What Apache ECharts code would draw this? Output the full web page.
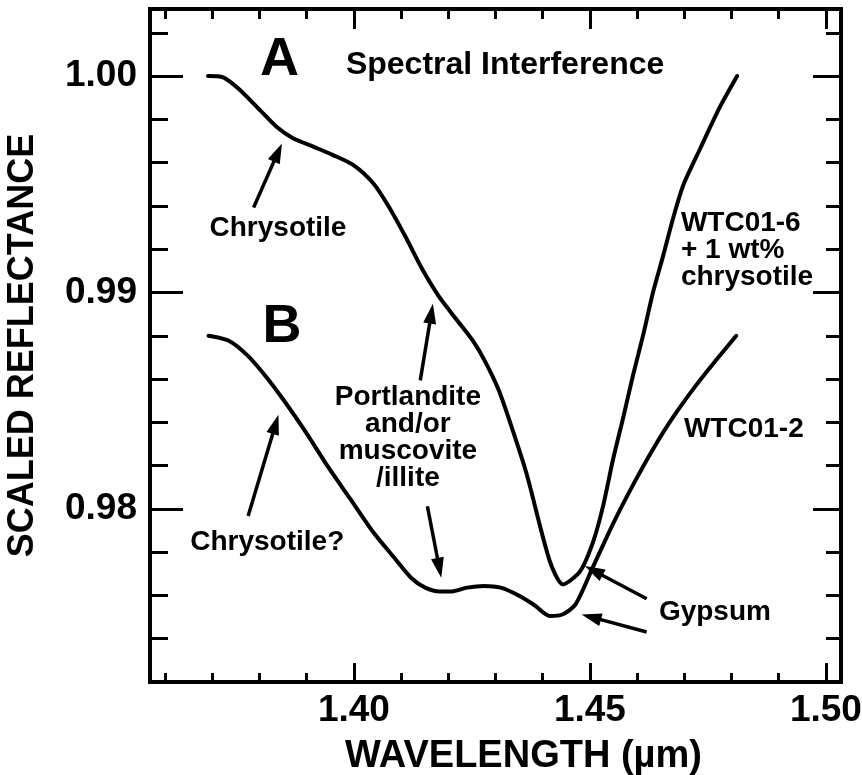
<!DOCTYPE html>
<html>
<head>
<meta charset="utf-8">
<script src="https://cdn.jsdelivr.net/npm/echarts@6/dist/echarts.min.js"></script>
<style>
  html, body { margin: 0; padding: 0; background: #fff; }
  #chart { width: 862px; height: 775px; }
</style>
</head>
<body>
<div id="chart"></div>
<script>
// Spectrum A: WTC01-6 + 1 wt% chrysotile
const waveA = [1.3691, 1.3723, 1.3759, 1.3801, 1.3836, 1.3871, 1.3914, 1.3956, 1.3999, 1.4041,
               1.4075, 1.4110, 1.4145, 1.4180, 1.4216, 1.4252, 1.4277, 1.4307, 1.4336, 1.4366,
               1.4415, 1.4443, 1.4479, 1.4507, 1.4528, 1.4549, 1.4571, 1.4592,
               1.4613, 1.4634, 1.4655, 1.4677, 1.4698, 1.4733, 1.4775, 1.4812];
const reflA = [1.0000, 0.99994, 0.99935, 0.99843, 0.99766, 0.99713, 0.99674, 0.99635, 0.99589, 0.99505,
               0.99393, 0.99255, 0.99107, 0.98982, 0.98879, 0.98777, 0.98685, 0.98548, 0.98366, 0.98161,
               0.97759, 0.97651, 0.97711, 0.97849, 0.98014, 0.98228, 0.98426, 0.98623,
               0.98805, 0.99003, 0.99168, 0.99349, 0.99497, 0.99662, 0.99855, 1.0000];

// Spectrum B: WTC01-2
const waveB = [1.3692, 1.3735, 1.3775, 1.3816, 1.3851, 1.3898, 1.3945, 1.3992, 1.4039, 1.4086,
               1.4121, 1.4151, 1.4182, 1.4205, 1.4240, 1.4276, 1.4311, 1.4347, 1.4382, 1.4415,
               1.4443, 1.4470, 1.4507, 1.4549, 1.4592, 1.4634, 1.4677, 1.4726, 1.4768, 1.4810];
const reflB = [0.98800, 0.98777, 0.98708, 0.98605, 0.98503, 0.98355, 0.98195, 0.98047, 0.97898, 0.97773,
               0.97682, 0.97636, 0.97618, 0.97618, 0.97636, 0.97644, 0.97636, 0.97602, 0.97556, 0.97505,
               0.97513, 0.97560, 0.97734, 0.97931, 0.98113, 0.98277, 0.98426, 0.98574, 0.98689, 0.98800];

// Axis ranges and ticks
const xRange = [1.3568, 1.5032];
const yRange = [0.972, 1.0031];
const xMinorTicks = [1.36, 1.37, 1.38, 1.39, 1.41, 1.42, 1.43, 1.44, 1.46, 1.47, 1.48, 1.49];
const xMajorTicks = [1.40, 1.45, 1.50];
const yMinorTicks = [0.974, 0.976, 0.978, 0.982, 0.984, 0.986, 0.988, 0.992, 0.994, 0.996, 0.998, 1.002];
const yMajorTicks = [0.98, 0.99, 1.00];

// Annotation anchors (wavelength, reflectance)
const notes = [
  { text: 'A', at: [1.38422, 1.00074] },
  { text: 'Spectral Interference', at: [1.39831, 1.00051] },
  { text: 'Chrysotile', at: [1.36941, 0.99296] },
  { text: 'B', at: [1.38475, 0.98842] },
  { text: 'Portlandite\nand/or\nmuscovite\n/illite', at: [1.41144, 0.98327] },
  { text: 'Chrysotile?', at: [1.36532, 0.97845] },
  { text: 'Gypsum', at: [1.46462, 0.97522] },
  { text: 'WTC01-6\n+ 1 wt%\nchrysotile', at: [1.46928, 0.99197] },
  { text: 'WTC01-2', at: [1.46992, 0.98366] }
];
// Arrows: [tail wavelength, tail reflectance, tip wavelength, tip reflectance]
const arrows = [
  [1.37875, 0.99393, 1.38475, 0.99689],
  [1.37759, 0.97967, 1.38401, 0.98435],
  [1.41406, 0.98594, 1.41674, 0.98948],
  [1.41557, 0.98012, 1.41850, 0.97682],
  [1.46202, 0.97585, 1.44894, 0.97736],
  [1.46202, 0.97431, 1.44824, 0.97512]
];

const FONT = "'Liberation Sans', Arial, Helvetica, sans-serif";
const noteLook = [
  { size: 54, align: 'center', lh: 54 },
  { size: 32, align: 'left', lh: 32 },
  { size: 28, align: 'left', lh: 28 },
  { size: 54, align: 'center', lh: 54 },
  { size: 28, align: 'center', lh: 27 },
  { size: 28, align: 'left', lh: 28 },
  { size: 28, align: 'left', lh: 28 },
  { size: 28, align: 'left', lh: 27 },
  { size: 28, align: 'left', lh: 28 }
];

const zip = (xs, ys) => xs.map((x, i) => [x, ys[i]]);

function xAxisDef(position, ticks, len, withLine, withLabel) {
  return {
    type: 'value', position: position, min: xRange[0], max: xRange[1],
    axisLine: { show: withLine, onZero: false, lineStyle: { color: '#000', width: 4, cap: 'square' } },
    axisTick: { show: true, inside: true, length: len, customValues: ticks,
                lineStyle: { color: '#000', width: 3 } },
    axisLabel: withLabel ? {
      show: true, customValues: xMajorTicks, margin: 10,
      formatter: v => v.toFixed(2),
      color: '#000', fontSize: 37, fontWeight: 'bold', fontFamily: FONT
    } : { show: false },
    splitLine: { show: false },
    name: withLabel ? 'WAVELENGTH (\u00b5m)' : '',
    nameLocation: 'middle', nameGap: 56,
    nameTextStyle: { color: '#000', fontSize: 38, fontWeight: 'bold', fontFamily: FONT,
                     padding: [0, 0, 0, 56] }
  };
}
function yAxisDef(position, ticks, len, withLine, withLabel) {
  return {
    type: 'value', position: position, min: yRange[0], max: yRange[1],
    axisLine: { show: withLine, onZero: false, lineStyle: { color: '#000', width: 4, cap: 'square' } },
    axisTick: { show: true, inside: true, length: len, customValues: ticks,
                lineStyle: { color: '#000', width: 3 } },
    axisLabel: withLabel ? {
      show: true, customValues: yMajorTicks, margin: 13,
      formatter: v => v.toFixed(2),
      color: '#000', fontSize: 37, fontWeight: 'bold', fontFamily: FONT
    } : { show: false },
    splitLine: { show: false },
    name: withLabel ? 'SCALED REFLECTANCE' : '',
    nameLocation: 'middle', nameGap: 109,
    nameTextStyle: { color: '#000', fontSize: 36, fontWeight: 'bold', fontFamily: FONT }
  };
}

const chart = echarts.init(document.getElementById('chart'), null, { renderer: 'canvas' });

chart.setOption({
  animation: false,
  backgroundColor: '#fff',
  grid: { left: 150, right: 21, top: 9, bottom: 93, containLabel: false, outerBoundsMode: 'none' },
  xAxis: [
    xAxisDef('bottom', xMinorTicks, 9, true, true),
    xAxisDef('bottom', xMajorTicks, 19, false, false),
    xAxisDef('top', xMinorTicks, 10, true, false),
    xAxisDef('top', xMajorTicks, 20, false, false)
  ],
  yAxis: [
    yAxisDef('left', yMinorTicks, 18, true, true),
    yAxisDef('left', yMajorTicks, 33, false, false),
    yAxisDef('right', yMinorTicks, 15, true, false),
    yAxisDef('right', yMajorTicks, 28, false, false)
  ],
  series: [
    {
      name: 'WTC01-6 + 1 wt% chrysotile', type: 'line', data: zip(waveA, reflA),
      showSymbol: false, smooth: 0.25, silent: true,
      lineStyle: { color: '#000', width: 4, join: 'round', cap: 'round' }
    },
    {
      name: 'WTC01-2', type: 'line', data: zip(waveB, reflB),
      showSymbol: false, smooth: 0.25, silent: true,
      lineStyle: { color: '#000', width: 4, join: 'round', cap: 'round' }
    },
    {
      name: 'arrows', type: 'custom', data: arrows, silent: true,
      renderItem: function (params, api) {
        const p1 = api.coord([api.value(0), api.value(1)]);
        const p2 = api.coord([api.value(2), api.value(3)]);
        const dx = p2[0] - p1[0], dy = p2[1] - p1[1];
        const len = Math.sqrt(dx * dx + dy * dy);
        const ux = dx / len, uy = dy / len;
        const head = 20, half = 6.5;
        const bx = p2[0] - ux * head, by = p2[1] - uy * head;
        return {
          type: 'group',
          children: [
            { type: 'line', shape: { x1: p1[0], y1: p1[1], x2: bx + ux * 2, y2: by + uy * 2 },
              style: { stroke: '#000', lineWidth: 3.5 } },
            { type: 'polygon',
              shape: { points: [p2, [bx - uy * half, by + ux * half], [bx + uy * half, by - ux * half]] },
              style: { fill: '#000' } }
          ]
        };
      }
    },
    {
      name: 'notes', type: 'custom', data: notes.map(n => n.at), silent: true,
      renderItem: function (params, api) {
        const p = api.coord([api.value(0), api.value(1)]);
        const look = noteLook[params.dataIndex];
        return {
          type: 'text', x: p[0], y: p[1],
          style: {
            text: notes[params.dataIndex].text,
            fill: '#000', fontSize: look.size, fontWeight: 'bold', fontFamily: FONT,
            align: look.align, verticalAlign: 'middle', lineHeight: look.lh
          }
        };
      }
    }
  ]
});
</script>
</body>
</html>
